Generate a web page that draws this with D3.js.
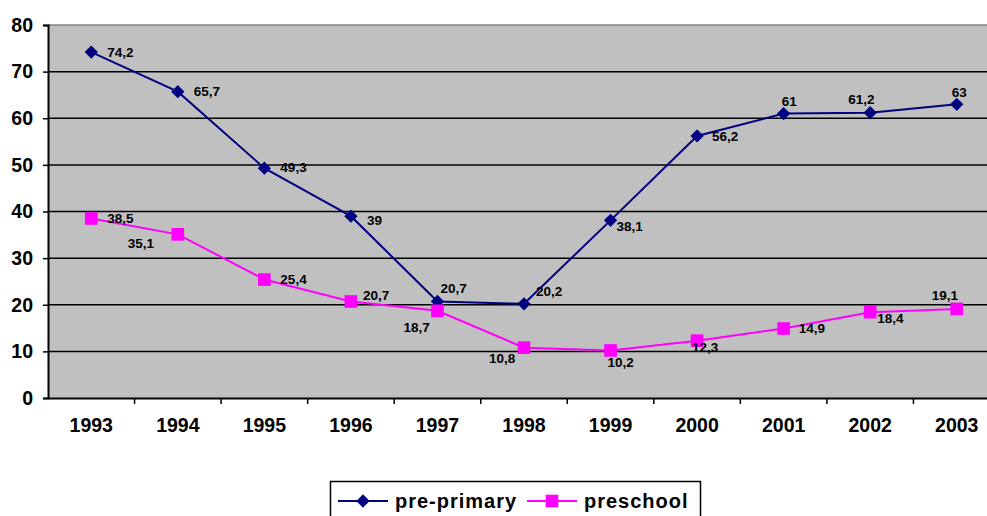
<!DOCTYPE html>
<html lang="en">
<head>
    <meta charset="UTF-8">
    <title>Pre-primary vs preschool</title>
    <style>
        body { margin: 0; background: #fff; }
        svg { display: block; font-family: "Liberation Sans", Arial, sans-serif; }
    </style>
    <script src="https://d3js.org/d3.v7.min.js"></script>
</head>
<body>
    <svg width="987" height="516"></svg>
    <script>
        const years = ['1993', '1994', '1995', '1996', '1997', '1998', '1999', '2000', '2001', '2002', '2003'];
        const prePrimary = [74.2, 65.7, 49.3, 39, 20.7, 20.2, 38.1, 56.2, 61, 61.2, 63];
        const preschool = [38.5, 35.1, 25.4, 20.7, 18.7, 10.8, 10.2, 12.3, 14.9, 18.4, 19.1];
        const yTicks = [0, 10, 20, 30, 40, 50, 60, 70, 80];

        // where each value label sits relative to its point (dx, dy in px)
        const preLabelPos = [[16, 0], [16, 0], [16, -1], [16, 4], [3, -13], [12, -13], [6, 6], [15, 0], [-2, -12], [-22, -13], [-5, -12]];
        const schoolLabelPos = [[16, 0], [-50, 9], [16, 0], [12, -6], [-34, 16], [-35, 11], [-3, 12], [-5, 7], [15, 0], [7, 6], [-25, -14]];

        const svg = d3.select("svg");
        const margin = { left: 48, top: 25, right: 1000, bottom: 398 };

        const x = d3.scaleBand().domain(years).range([margin.left, margin.right]);
        const y = d3.scaleLinear().domain([0, 80]).range([margin.bottom, margin.top]);

        // plot background
        svg.append("rect")
            .attr("x", margin.left).attr("y", margin.top)
            .attr("width", margin.right - margin.left)
            .attr("height", margin.bottom - margin.top)
            .attr("fill", "#c0c0c0");
        svg.append("line")
            .attr("x1", margin.left).attr("x2", margin.right)
            .attr("y1", margin.top).attr("y2", margin.top)
            .attr("stroke", "#808080").attr("stroke-width", 1.5);

        // gridlines
        svg.append("g")
            .selectAll("line")
            .data(yTicks.filter(t => t > 0 && t < 80))
            .enter().append("line")
            .attr("x1", margin.left).attr("x2", margin.right)
            .attr("y1", d => y(d)).attr("y2", d => y(d))
            .attr("stroke", "#000").attr("stroke-width", 1.5);

        // axes
        const yAxis = svg.append("g")
            .attr("transform", `translate(${margin.left},0)`)
            .call(d3.axisLeft(y).tickValues(yTicks).tickSize(5).tickPadding(10));
        const xAxis = svg.append("g")
            .attr("transform", `translate(0,${margin.bottom})`)
            .call(d3.axisBottom(x).tickSize(0).tickPadding(20));

        [yAxis, xAxis].forEach(a => {
            a.select(".domain").attr("stroke", "#000").attr("stroke-width", 2);
            a.selectAll("line").attr("stroke", "#000").attr("stroke-width", 1.5);
            a.selectAll("text")
                .attr("font-size", "19.5px")
                .attr("font-weight", "bold")
                .attr("fill", "#000")
                .attr("font-family", "'Liberation Sans', Arial, sans-serif");
        });

        // category separators on the x axis
        svg.append("g")
            .selectAll("line")
            .data(years.slice(1))
            .enter().append("line")
            .attr("x1", d => x(d)).attr("x2", d => x(d))
            .attr("y1", margin.bottom).attr("y2", margin.bottom + 6)
            .attr("stroke", "#000").attr("stroke-width", 1.5);

        const cx = i => x(years[i]) + x.bandwidth() / 2;

        const series = [
            { name: 'pre-primary', values: prePrimary, color: '#000080', rotate: 45, size: 88 },
            { name: 'preschool', values: preschool, color: '#ff00ff', rotate: 0, size: 160 }
        ];
        series[0].labels = preLabelPos;
        series[1].labels = schoolLabelPos;

        const line = d3.line().x((d, i) => cx(i)).y(d => y(d));
        const marker = s => d3.symbol().type(d3.symbolSquare).size(s.size);

        series.forEach(s => {
            svg.append("path")
                .datum(s.values)
                .attr("d", line)
                .attr("fill", "none")
                .attr("stroke", s.color)
                .attr("stroke-width", 2);

            svg.append("g")
                .selectAll("path")
                .data(s.values)
                .enter().append("path")
                .attr("d", marker(s))
                .attr("transform", (d, i) => `translate(${cx(i)},${y(d)}) rotate(${s.rotate})`)
                .attr("fill", s.color);
        });

        series.forEach(s => {
            svg.append("g")
                .selectAll("text")
                .data(s.values)
                .enter().append("text")
                .attr("x", (d, i) => cx(i) + s.labels[i][0])
                .attr("y", (d, i) => y(d) + s.labels[i][1])
                .attr("dy", "0.35em")
                .attr("font-size", "13.5px")
                .attr("font-weight", "bold")
                .attr("fill", "#000")
                .text(d => String(d).replace('.', ','));
        });

        // legend
        const legend = svg.append("g");
        legend.append("rect")
            .attr("x", 330.5).attr("y", 481.5)
            .attr("width", 370).attr("height", 45)
            .attr("fill", "#fff").attr("stroke", "#000").attr("stroke-width", 1.5);

        const legendX = [338, 527];
        series.forEach((s, i) => {
            const g = legend.append("g").attr("transform", `translate(${legendX[i]},501)`);
            g.append("line")
                .attr("x1", 0).attr("x2", 50)
                .attr("stroke", s.color).attr("stroke-width", 2);
            g.append("path")
                .attr("d", marker(s))
                .attr("transform", `translate(25,0) rotate(${s.rotate})`)
                .attr("fill", s.color);
            g.append("text")
                .attr("x", 57)
                .attr("dy", "0.35em")
                .attr("font-size", "20px")
                .attr("font-weight", "bold")
                .attr("letter-spacing", "1px")
                .attr("fill", "#000")
                .text(s.name);
        });
    </script>
</body>
</html>
